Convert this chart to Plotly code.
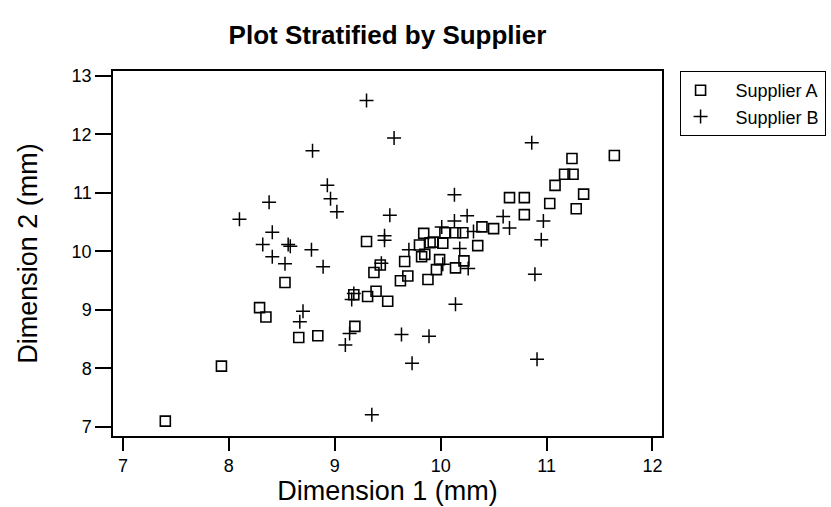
import plotly.graph_objects as go

# Supplier A (open squares)
a_x = [7.40, 7.93, 8.29, 8.35, 8.53, 8.66, 8.84, 9.19, 9.18, 9.31, 9.39, 9.50, 9.37, 9.43,
       9.30, 9.62, 9.69, 9.88, 9.66, 9.82, 9.85, 9.96, 9.99, 10.14, 10.22, 9.80, 9.90, 9.93,
       10.02, 9.84, 10.04, 10.14, 10.21, 10.35, 10.39, 10.50, 10.65, 10.79, 10.79, 11.03,
       11.08, 11.17, 11.25, 11.24, 11.64, 11.35, 11.28]
a_y = [7.10, 8.04, 9.04, 8.88, 9.47, 8.53, 8.56, 8.72, 9.26, 9.23, 9.32, 9.15, 9.64, 9.77,
       10.17, 9.50, 9.58, 9.52, 9.83, 9.91, 9.95, 9.69, 9.86, 9.72, 9.84, 10.11, 10.15, 10.16,
       10.14, 10.31, 10.32, 10.32, 10.32, 10.10, 10.42, 10.39, 10.92, 10.92, 10.63, 10.82,
       11.13, 11.32, 11.32, 11.59, 11.64, 10.98, 10.73]

# Supplier B (plus signs)
b_x = [9.30, 8.79, 9.56, 10.86, 8.93, 8.96, 9.02, 8.38, 8.10, 8.41, 8.32, 8.56, 8.58, 8.78,
       8.41, 8.53, 8.89, 8.70, 8.67, 9.18, 9.16, 9.14, 9.10, 9.35, 9.52, 9.47, 9.47, 9.44,
       9.70, 10.13, 10.01, 10.13, 10.25, 10.31, 10.18, 10.02, 10.26, 10.59, 10.65, 10.97,
       10.95, 10.89, 10.14, 9.63, 9.89, 9.73, 10.91]
b_y = [12.58, 11.72, 11.94, 11.86, 11.13, 10.90, 10.68, 10.84, 10.55, 10.33, 10.12, 10.12,
       10.09, 10.03, 9.91, 9.79, 9.74, 8.98, 8.80, 9.28, 9.18, 8.60, 8.40, 7.21, 10.62, 10.27,
       10.19, 9.80, 10.03, 10.97, 10.42, 10.52, 10.61, 10.34, 10.05, 9.78, 9.71, 10.60, 10.40,
       10.52, 10.20, 9.61, 9.10, 8.58, 8.55, 8.09, 8.16]

x_ticks = [7, 8, 9, 10, 11, 12]
y_ticks = [7, 8, 9, 10, 11, 12, 13]

NBSP = "\u00a0"

fig = go.Figure()
fig.add_trace(go.Scatter(
    x=a_x, y=a_y, mode='markers', name=NBSP * 3 + 'Supplier A',
    marker=dict(symbol='square-open', size=10, color='black',
                line=dict(width=1.6, color='black'))))
fig.add_trace(go.Scatter(
    x=b_x, y=b_y, mode='markers', name=NBSP * 3 + 'Supplier B',
    marker=dict(symbol='cross-thin-open', size=10, color='black',
                line=dict(width=1.5, color='black'))))

axis_common = dict(showline=True, mirror=True, linecolor='black', linewidth=1.5,
                   showgrid=False, zeroline=False, ticks='outside', tickwidth=1.5,
                   tickcolor='black', tickfont=dict(size=18))

fig.update_layout(
    width=831, height=507,
    margin=dict(l=113, r=169, t=71, b=71, autoexpand=False),
    paper_bgcolor='white', plot_bgcolor='white',
    font=dict(family='Liberation Sans, Arial, sans-serif', color='black'),
    title=dict(text='<b>Plot Stratified by Supplier</b>', x=0.4663, xanchor='center',
               y=1 - 35 / 507, yanchor='middle', font=dict(size=26)),
    xaxis=dict(range=[6.906, 12.09], tickvals=x_ticks, ticklen=13,
               title=dict(text='Dimension 1 (mm)', font=dict(size=27), standoff=0),
               **axis_common),
    yaxis=dict(range=[6.846, 13.085], tickvals=y_ticks, ticklen=16,
               title=dict(text='Dimension 2 (mm)', font=dict(size=27), standoff=26),
               **axis_common),
    legend=dict(x=1.032, y=1.0, xanchor='left', yanchor='top',
                bordercolor='black', borderwidth=1, font=dict(size=18),
                bgcolor='white', tracegroupgap=0),
    showlegend=True,
)

fig.write_html("out.html")
